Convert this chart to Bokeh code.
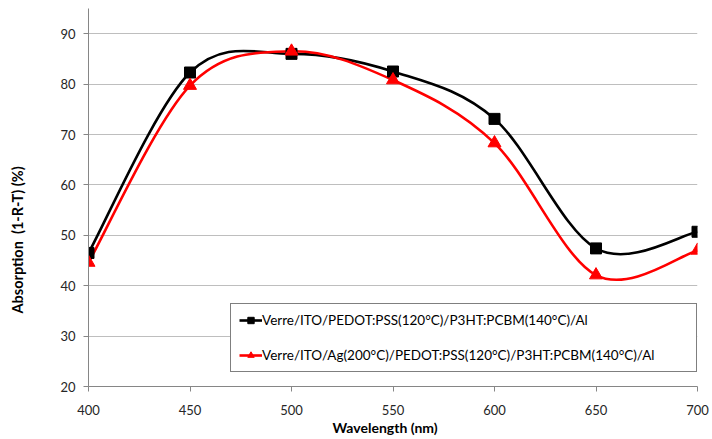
import numpy as np
from bokeh.plotting import figure
from bokeh.models import Legend, LegendItem, Range1d, FixedTicker, ColumnDataSource, Title
from bokeh.embed import file_html
from bokeh.resources import INLINE

wavelength = [400, 450, 500, 550, 600, 650, 700]
absorption_ref = [46.5, 82.3, 86.0, 82.5, 73.1, 47.4, 50.7]
absorption_ag = [44.6, 79.7, 86.5, 80.8, 68.3, 42.1, 47.0]
label_ref = "Verre/ITO/PEDOT:PSS(120°C)/P3HT:PCBM(140°C)/Al"
label_ag = "Verre/ITO/Ag(200°C)/PEDOT:PSS(120°C)/P3HT:PCBM(140°C)/Al"
x_title = "Wavelength (nm)"
y_title = "Absorption\u00a0 (1-R-T) (%)"
x_ticks = [400, 450, 500, 550, 600, 650, 700]
y_ticks = [20, 30, 40, 50, 60, 70, 80, 90]

FONT = "Lato"


def bezier_source(xs, ys):
    # Catmull-Rom style smoothing (as Excel smoothed lines) expressed as cubic Bezier segments
    x = np.asarray(xs, dtype=float)
    y = np.asarray(ys, dtype=float)
    n = len(x)
    d = dict(x0=[], y0=[], x1=[], y1=[], cx0=[], cy0=[], cx1=[], cy1=[])
    for i in range(n - 1):
        p0 = i - 1 if i > 0 else i
        p3 = i + 2 if i + 2 < n else i + 1
        d["x0"].append(x[i]); d["y0"].append(y[i])
        d["x1"].append(x[i + 1]); d["y1"].append(y[i + 1])
        d["cx0"].append(x[i] + (x[i + 1] - x[p0]) / 6)
        d["cy0"].append(y[i] + (y[i + 1] - y[p0]) / 6)
        d["cx1"].append(x[i + 1] - (x[p3] - x[i]) / 6)
        d["cy1"].append(y[i + 1] - (y[p3] - y[i]) / 6)
    return ColumnDataSource(d)


p = figure(width=712, height=439, output_backend="svg", toolbar_location=None,
           x_range=Range1d(400, 700), y_range=Range1d(20, 95),
           min_border_left=88, min_border_right=15, min_border_top=8, min_border_bottom=53)
p.outline_line_color = None
p.background_fill_color = "white"

p.xgrid.grid_line_color = None
p.ygrid.grid_line_color = "#BEBEBE"
p.ygrid.grid_line_width = 1

for ax in (p.xaxis[0], p.yaxis[0]):
    ax.axis_line_color = "#868686"
    ax.major_tick_line_color = "#868686"
    ax.minor_tick_line_color = None
    ax.major_tick_out = 5
    ax.major_tick_in = 0
    ax.major_label_text_font = FONT
    ax.major_label_text_font_size = "13px"
    ax.major_label_text_color = "#262626"

p.xaxis[0].ticker = FixedTicker(ticks=x_ticks)
p.yaxis[0].ticker = FixedTicker(ticks=y_ticks)
p.xaxis[0].major_label_standoff = 13
p.yaxis[0].major_label_standoff = 8
# invisible spacer label to push the y title outward
p.yaxis[0].axis_label = "\u00a0"
p.yaxis[0].axis_label_text_font_size = "1px"
p.yaxis[0].axis_label_standoff = 28

xt = Title(text=x_title, align="left", offset=244, vertical_align="top",
           text_font=FONT, text_font_size="14px",
           text_font_style="bold", text_color="black", standoff=2)
yt = Title(text=y_title, align="left", offset=73, vertical_align="bottom",
           text_font=FONT, text_font_size="14.5px",
           text_font_style="bold", text_color="black", standoff=0)
p.add_layout(xt, "below")
p.add_layout(yt, "left")

src_ref = bezier_source(wavelength, absorption_ref)
src_ag = bezier_source(wavelength, absorption_ag)

b_ref = p.bezier(x0="x0", y0="y0", x1="x1", y1="y1", cx0="cx0", cy0="cy0", cx1="cx1", cy1="cy1",
                 source=src_ref, line_color="black", line_width=2.6)
b_ag = p.bezier(x0="x0", y0="y0", x1="x1", y1="y1", cx0="cx0", cy0="cy0", cx1="cx1", cy1="cy1",
                source=src_ag, line_color="red", line_width=2.6)
s_ref = p.scatter(wavelength, absorption_ref, marker="square", size=11,
                  fill_color="black", line_color="black")
s_ag = p.scatter(wavelength, absorption_ag, marker="triangle", size=13,
                 fill_color="red", line_color="red")

legend = Legend(items=[LegendItem(label=label_ref, renderers=[b_ref, s_ref]),
                       LegendItem(label=label_ag, renderers=[b_ag, s_ag])],
                location=(142, 14))
legend.border_line_color = "black"
legend.border_line_width = 1
legend.background_fill_alpha = 1
legend.label_text_font = FONT
legend.label_text_font_size = "13.5px"
legend.label_text_color = "#000000"
legend.glyph_width = 23
legend.glyph_height = 16
legend.label_height = 16
legend.label_standoff = 0
legend.spacing = 19
legend.padding = 8
legend.margin = 0
legend.label_width = 426
p.add_layout(legend)

open("out.html", "w").write(file_html(p, INLINE))
